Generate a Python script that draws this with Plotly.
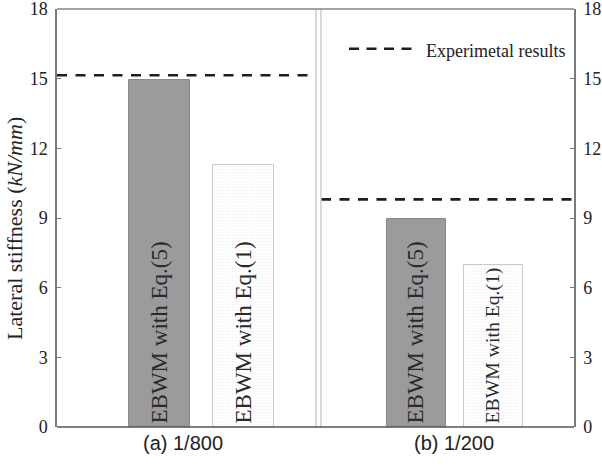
import plotly.graph_objects as go

# Lateral stiffness at two drift ratios
methods = ["EBWM with Eq.(5)", "EBWM with Eq.(1)"]
stiffness_800 = [14.95, 11.3]
stiffness_200 = [8.95, 6.98]
experimental = [15.15, 9.8]
drift_labels = ["(a) 1/800", "(b) 1/200"]
y_ticks = [0, 3, 6, 9, 12, 15, 18]

SERIF = "Liberation Serif"
SANS = "Liberation Sans"

bar_fill = ["#9b9b9b", "#f3f3f3"]
bar_edge = ["#8a8a8a", "#c9c9c9"]

fig = go.Figure()

for vals, xa, ya, w in [(stiffness_800, "x", "y", 0.726), (stiffness_200, "x2", "y2", 0.766)]:
    fig.add_trace(go.Bar(
        x=methods, y=vals, xaxis=xa, yaxis=ya, width=w,
        text=methods, textposition="inside", insidetextanchor="start",
        textangle=-90, constraintext="inside",
        insidetextfont=dict(family=SERIF, size=23, color="#2a2a2a"),
        marker=dict(
            color=bar_fill,
            line=dict(color=bar_edge, width=1),
            pattern=dict(shape=["", "."], size=3, solidity=0.25,
                         fgcolor="#d6d6d6", bgcolor="#f5f5f5", fillmode="replace"),
        ),
        showlegend=False, hoverinfo="skip",
    ))

# experimental stiffness as dashed reference lines, one per panel
for val, xd, ya in [(experimental[0], "x domain", "y"), (experimental[1], "x2 domain", "y2")]:
    fig.add_shape(type="line", xref=xd, yref=ya, x0=0, x1=1, y0=val, y1=val,
                  line=dict(color="#1e1e1e", width=2.6, dash="10px,8.5px"))

# light double rule separating the two panels
fig.add_shape(type="line", xref="x domain", yref="paper", x0=1, x1=1, y0=0, y1=1,
              line=dict(color="#cdcdcd", width=1.5))
fig.add_shape(type="line", xref="x2 domain", yref="paper", x0=0, x1=0, y0=0, y1=1,
              line=dict(color="#cdcdcd", width=1.5))

# continuous top and bottom frame lines
fig.add_shape(type="line", xref="paper", yref="paper", x0=0, x1=1, y0=1, y1=1,
              line=dict(color="#858585", width=1.6))
fig.add_shape(type="line", xref="paper", yref="paper", x0=0, x1=1, y0=0, y1=0,
              line=dict(color="#555555", width=1.5))

# legend entry
fig.add_shape(type="line", xref="paper", yref="paper", x0=0.5648, x1=0.6925, y0=0.905, y1=0.905,
              line=dict(color="#1e1e1e", width=2.6, dash="10px,7.5px"))
fig.add_annotation(xref="paper", yref="paper", x=0.7099, y=0.9, xanchor="left", yanchor="middle",
                   text="Experimetal results", showarrow=False,
                   font=dict(family=SERIF, size=18, color="#222"))

# panel labels under the axis
for lbl, xd in zip(drift_labels, ["x domain", "x2 domain"]):
    fig.add_annotation(xref=xd, yref="paper", x=0.487 if xd == "x domain" else 0.526, y=0,
                       yshift=-16, xanchor="center", yanchor="middle", text=lbl,
                       showarrow=False, font=dict(family=SANS, size=20, color="#222"))

# y axis title
fig.add_annotation(xref="paper", yref="paper", x=-0.081, y=0.474, xanchor="center",
                   yanchor="middle", textangle=-90, showarrow=False,
                   text="Lateral stiffness (<i>kN/mm</i>)",
                   font=dict(family=SERIF, size=22, color="#222"))

axis_line = dict(showline=True, linecolor="#7a7a7a", linewidth=1.5)
x_common = dict(showgrid=False, zeroline=False, showticklabels=False, ticks="",
                showline=False, automargin=False)
y_common = dict(range=[0, 18], tickvals=y_ticks, showgrid=False, zeroline=False,
                ticks="inside", ticklen=4, tickcolor="#7a7a7a", tickwidth=1,
                tickfont=dict(family=SERIF, size=18, color="#222"),
                ticklabelstandoff=4, ticklabeloverflow="allow", automargin=False,
                **axis_line)

fig.update_layout(
    width=602, height=466,
    margin=dict(l=57, r=28, t=9, b=39),
    paper_bgcolor="white", plot_bgcolor="white",
    bargap=0,
    xaxis=dict(domain=[0, 0.501], range=[-1.22, 1.863], anchor="y", **x_common),
    xaxis2=dict(domain=[0.5106, 1], range=[-1.24, 2.045], anchor="y2", **x_common),
    yaxis=dict(anchor="x", side="left", **y_common),
    yaxis2=dict(anchor="x2", side="right", **y_common),
)

fig.write_html("out.html")
